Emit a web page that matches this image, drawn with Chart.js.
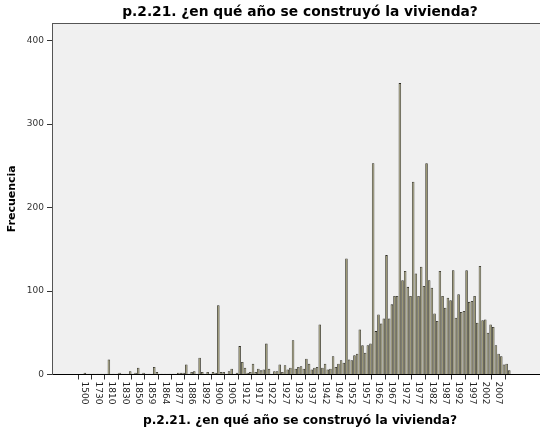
<!DOCTYPE html>
<html>
<head>
<meta charset="utf-8">
<script src="https://cdn.jsdelivr.net/npm/chart.js@4.4.1/dist/chart.umd.min.js"></script>
<style>
  html, body { margin: 0; padding: 0; background: #fff; overflow: hidden; width: 540px; height: 432px; }
</style>
</head>
<body>
<canvas id="myChart" width="548" height="432"></canvas>
<script>
// Años (categorías del eje X)
var anios = [
    1500, 1600, 1650, 1700, 1720, 1730, 1750, 1770, 1780, 1800,
    1810, 1812, 1815, 1820, 1825, 1830, 1835, 1840, 1845, 1848,
    1850, 1852, 1854, 1855, 1857, 1859, 1860, 1861, 1862, 1863,
    1864, 1866, 1870, 1872, 1875, 1877, 1878, 1880, 1882, 1885,
    1886, 1887, 1888, 1890, 1891, 1892, 1894, 1895, 1896, 1898,
    1900, 1901, 1902, 1903, 1904, 1905, 1906, 1908, 1910, 1911,
    1912, 1913, 1914, 1915, 1916, 1917, 1918, 1919, 1920, 1921,
    1922, 1923, 1924, 1925, 1926, 1927, 1928, 1929, 1930, 1931,
    1932, 1933, 1934, 1935, 1936, 1937, 1938, 1939, 1940, 1941,
    1942, 1943, 1944, 1945, 1946, 1947, 1948, 1949, 1950, 1951,
    1952, 1953, 1954, 1955, 1956, 1957, 1958, 1959, 1960, 1961,
    1962, 1963, 1964, 1965, 1966, 1967, 1968, 1969, 1970, 1971,
    1972, 1973, 1974, 1975, 1976, 1977, 1978, 1979, 1980, 1981,
    1982, 1983, 1984, 1985, 1986, 1987, 1988, 1989, 1990, 1991,
    1992, 1993, 1994, 1995, 1996, 1997, 1998, 1999, 2000, 2001,
    2002, 2003, 2004, 2005, 2006, 2007, 2008, 2009, 2010, 2011
];

// Frecuencia por año
var frecuencias = [
    2, 1, 1, 1, 1, 1, 1, 1, 1, 18,
    1, 1, 1, 2, 1, 1, 1, 4, 1, 2,
    8, 1, 2, 1, 1, 1, 9, 3, 1, 1,
    1, 1, 1, 1, 1, 2, 2, 2, 12, 1,
    3, 4, 1, 20, 3, 1, 3, 1, 3, 2,
    83, 3, 3, 1, 4, 7, 1, 2, 34, 15,
    8, 2, 3, 13, 3, 7, 5, 6, 37, 7,
    1, 4, 4, 12, 3, 11, 6, 8, 41, 7,
    9, 10, 7, 19, 13, 6, 8, 9, 60, 8,
    13, 6, 7, 22, 9, 13, 17, 14, 139, 18,
    17, 23, 25, 54, 35, 26, 35, 37, 253, 52,
    72, 61, 67, 143, 67, 84, 94, 94, 349, 113,
    124, 105, 94, 231, 121, 94, 129, 106, 253, 113,
    104, 73, 64, 124, 94, 80, 92, 89, 125, 68,
    96, 75, 76, 125, 87, 88, 94, 62, 130, 65,
    66, 50, 60, 57, 35, 25, 22, 12, 13, 5
];

// Etiquetas visibles del eje X (una de cada cinco categorías)
var etiquetasX = [
    '1500', '1730', '1810', '1830', '1850', '1859', '1864', '1877',
    '1886', '1892', '1900', '1905', '1912', '1917', '1922', '1927',
    '1932', '1937', '1942', '1947', '1952', '1957', '1962', '1967',
    '1972', '1977', '1982', '1987', '1992', '1997', '2002', '2007'
];

// Marcas del eje Y
var marcasY = [0, 100, 200, 300, 400];

var titulo = 'p.2.21. ¿en qué año se construyó la vivienda?';

// Fondo gris del área, marco y etiquetas giradas del eje X
var fondoYEtiquetas = {
    id: 'fondoYEtiquetas',
    beforeDraw: function (chart) {
        var a = chart.chartArea, c = chart.ctx;
        c.save();
        c.fillStyle = '#f0f0f0';
        c.fillRect(a.left, a.top, a.right - a.left, a.bottom - a.top);
        c.restore();
    },
    afterDraw: function (chart) {
        var a = chart.chartArea, c = chart.ctx, x = chart.scales.x;
        c.save();
        c.strokeStyle = '#555';
        c.lineWidth = 1;
        c.beginPath();
        c.moveTo(a.left, a.top + 0.5);
        c.lineTo(a.right, a.top + 0.5);
        c.stroke();

        c.fillStyle = '#000';
        c.font = 'bold 13.8px "DejaVu Sans"';
        c.textAlign = 'center';
        c.textBaseline = 'middle';
        c.fillText(titulo, (a.left + a.right) / 2, 12);

        c.font = '9px "DejaVu Sans"';
        c.fillStyle = '#222';
        c.textAlign = 'left';
        etiquetasX.forEach(function (t) {
            var px = x.getPixelForValue(anios.indexOf(+t));
            c.save();
            c.translate(px, a.bottom + 7);
            c.rotate(Math.PI / 2);
            c.fillText(t, 0, 0);
            c.restore();
        });
        c.restore();
    }
};

var ctx = document.getElementById('myChart').getContext('2d');
var myChart = new Chart(ctx, {
    type: 'bar',
    data: {
        datasets: [{
            label: 'Frecuencia',
            data: frecuencias.map(function (v, i) { return { x: i, y: v }; }),
            backgroundColor: '#96926c',
            borderColor: '#2c2b22',
            borderWidth: 0.8,
            barPercentage: 0.95,
            categoryPercentage: 1
        }]
    },
    options: {
        responsive: false,
        animation: false,
        layout: { padding: { top: 23, left: 0, right: 0, bottom: 0 } },
        plugins: {
            legend: { display: false },
            tooltip: { enabled: false }
        },
        scales: {
            x: {
                type: 'linear',
                min: -9.4,
                max: 170.6,
                afterBuildTicks: function (s) {
                    s.ticks = etiquetasX.map(function (t) { return { value: anios.indexOf(+t) }; });
                },
                afterFit: function (s) { s.height = 57.5; },
                ticks: { display: false },
                grid: { drawOnChartArea: false, drawTicks: true, tickLength: 5, color: '#333' },
                border: { display: true, color: '#000', width: 1 },
                title: {
                    display: true,
                    text: titulo,
                    color: '#000',
                    font: { family: 'DejaVu Sans', size: 12.2, weight: 'bold' },
                    padding: { top: 0, bottom: 4 }
                }
            },
            y: {
                min: 0,
                max: 421,
                afterBuildTicks: function (s) {
                    s.ticks = marcasY.map(function (v) { return { value: v }; });
                },
                afterFit: function (s) { s.width = 52; },
                ticks: {
                    color: '#333',
                    font: { family: 'DejaVu Sans', size: 9 },
                    padding: 3
                },
                grid: { drawOnChartArea: false, drawTicks: true, tickLength: 5, color: '#333' },
                border: { display: true, color: '#555', width: 1 },
                title: {
                    display: true,
                    text: 'Frecuencia',
                    color: '#000',
                    font: { family: 'DejaVu Sans', size: 11, weight: 'bold' },
                    padding: { top: 6, bottom: 0 }
                }
            }
        }
    },
    plugins: [fondoYEtiquetas]
});
</script>
</body>
</html>
